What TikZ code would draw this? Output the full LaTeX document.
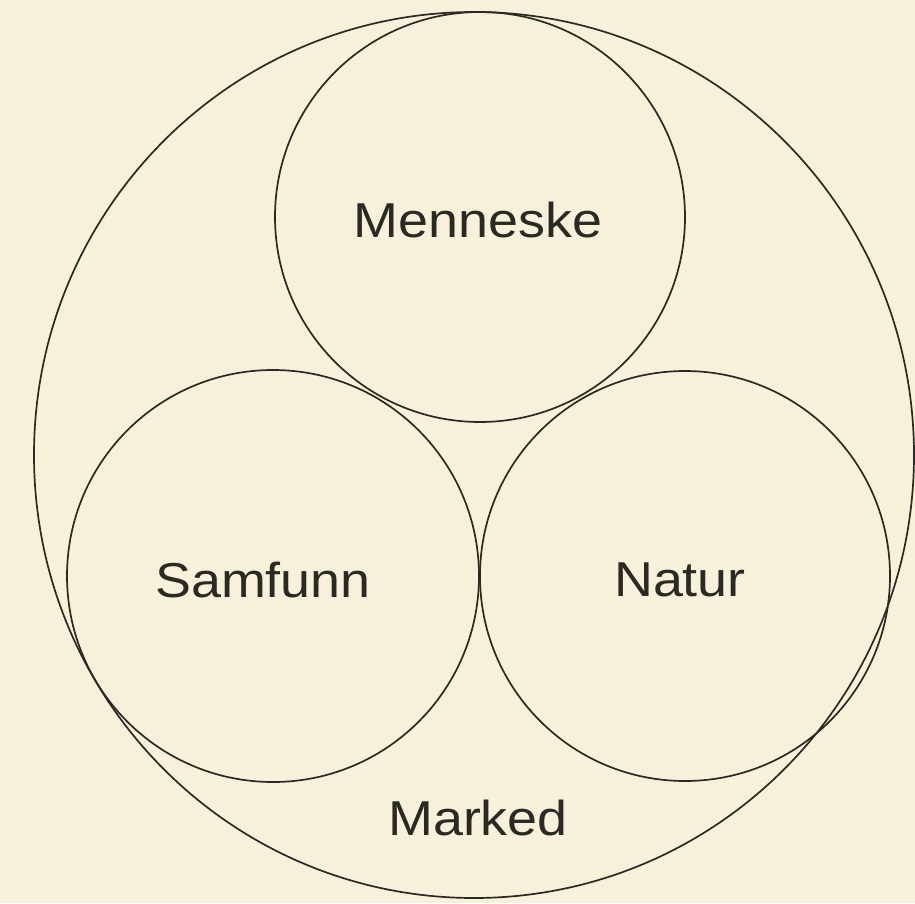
\documentclass[tikz,border=0pt]{standalone}
\usepackage{fontspec}
\usetikzlibrary{shapes.geometric}
\setmainfont{Liberation Sans}[FakeStretch=1.1]
\definecolor{bg}{HTML}{F7F1DC}
\definecolor{ink}{HTML}{2B2A22}
\begin{document}
\begin{tikzpicture}[x=1pt,y=-1pt,
  ring/.style={draw=ink,line width=1.7pt,circle,minimum size=#1,inner sep=0pt},
  lbl/.style={text=ink,font=\fontsize{49}{60}\selectfont}]
\fill[bg] (0,0) rectangle (915,903);
\useasboundingbox (0,0) rectangle (915,903);
\node[draw=ink,line width=1.7pt,ellipse,minimum width=880pt,minimum height=886pt,inner sep=0pt] (outer) at (474,455) {};
\node[ring=410pt] (top) at (480,217) {};
\node[ring=412pt] (left) at (273,576) {};
\node[ring=410pt] (right) at (685,576) {};
\node[lbl] (tm) at (478,220) {Menneske};
\node[lbl] (ls) at (263,580) {Samfunn};
\node[lbl] (rn) at (680,580) {Natur};
\node[lbl] (mk) at (478,818) {Marked};
\end{tikzpicture}
\end{document}
